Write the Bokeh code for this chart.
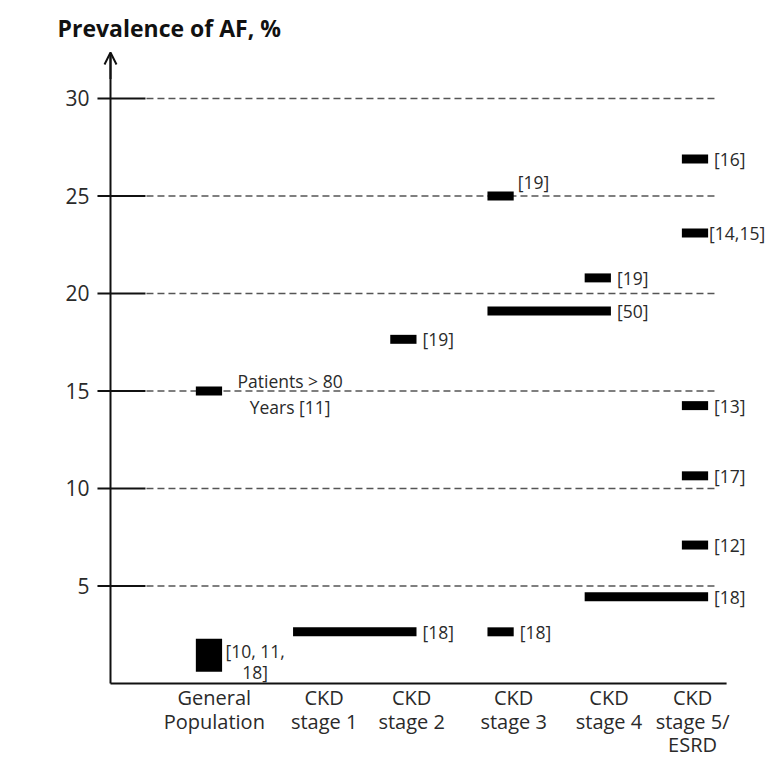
from bokeh.plotting import figure
from bokeh.models import Range1d, LinearAxis, FixedTicker, Arrow, OpenHead, ColumnDataSource
from bokeh.core.properties import value
from bokeh.embed import file_html
from bokeh.resources import INLINE

# ---------------- data ----------------
categories = ["General\nPopulation", "CKD\nstage 1", "CKD\nstage 2", "CKD\nstage 3",
              "CKD\nstage 4", "CKD\nstage 5/\nESRD"]
y_ticks = [5, 10, 15, 20, 25, 30]

# each finding: first category index, last category index, AF prevalence (%), reference
bar_from = [0, 1, 2, 3, 3, 3, 4, 4, 5, 5, 5, 5, 5]
bar_to = [0, 2, 2, 3, 4, 3, 4, 5, 5, 5, 5, 5, 5]
bar_value = [15.0, 2.65, 17.65, 25.0, 19.1, 2.65, 20.8, 4.45, 26.9, 23.1, 14.25, 10.65, 7.1]
bar_ref = ["Patients > 80\nYears [11]", "[18]", "[19]", "[19]", "[50]", "[18]", "[19]",
           "[18]", "[16]", "[14,15]", "[13]", "[17]", "[12]"]

# general population range
gp_low = [0.6]
gp_high = [2.3]
gp_ref = ["[10, 11,\n18]"]

# ---------------- style ----------------
FONT = "Open Sans"
TXT = "#2a2a2a"
INK = "#111111"
half_l, half_r = 0.13, 0.14          # bar extent around a category position
bar_h = 0.46
ref_dx = [68, 6, 6, 4, 6, 6, 6, 6, 6, 1, 6, 6, 6]
ref_dy = [3, 0, 0, -14, 0, 0, 0, 0, 0, 0, 0, 0, 0]
ref_align = ["center"] + ["left"] * 12
label_shift = [0.06, 0.19, 0.09, 0.14, 0.12, -0.02]

X0, X1 = -1.152, 5.792
Y0, Y1 = -4.513, 32.564
AX = -1.008                          # where the vertical axis line sits
TICK0, TICK1 = -1.142, -0.648        # tick mark extent
GRID0, GRID1 = -0.638, 5.216         # dashed line extent
XEND = 5.33                          # end of the horizontal axis line

p = figure(width=771, height=771, x_range=Range1d(X0, X1), y_range=Range1d(Y0, Y1),
           output_backend="svg", toolbar_location=None,
           x_axis_type=None, y_axis_type=None,
           min_border_left=96, min_border_right=0, min_border_top=48, min_border_bottom=0)
p.outline_line_color = None
p.grid.visible = False
p.background_fill_color = "white"

p.title.text = "Prevalence of AF, %"
p.title.align = "left"
p.title.offset = -39
p.title.text_font = FONT
p.title.text_font_style = "bold"
p.title.text_font_size = "23px"
p.title.text_color = INK

# y axis: only its tick labels; line and ticks are drawn below through the same scale
yaxis = LinearAxis(ticker=FixedTicker(ticks=y_ticks),
                   axis_line_color=None, major_tick_line_color=None,
                   minor_tick_line_color=None, major_tick_in=0, major_tick_out=0,
                   major_label_text_font=FONT, major_label_text_font_size="21px",
                   major_label_text_color=TXT, major_label_standoff=7)
p.add_layout(yaxis, "left")

# vertical axis line with arrow
p.segment(x0=[AX], y0=[0], x1=[AX], y1=[32.2], line_width=2, line_color=INK)
p.add_layout(Arrow(end=OpenHead(size=12, line_width=2, line_color=INK),
                   x_start=AX, y_start=31.0, x_end=AX, y_end=32.36,
                   line_width=2, line_color=INK))

# tick marks
p.segment(x0=[TICK0] * len(y_ticks), y0=y_ticks, x1=[TICK1] * len(y_ticks), y1=y_ticks,
          line_width=2, line_color=INK)

# dashed reference lines
p.segment(x0=[GRID0] * len(y_ticks), y0=y_ticks, x1=[GRID1] * len(y_ticks), y1=y_ticks,
          line_dash="7 4", line_color="#555555", line_width=1.4)

# x axis line
p.segment(x0=[AX], y0=[0], x1=[XEND], y1=[0], line_width=2, line_color=INK)

# bars
src = ColumnDataSource(dict(
    y=bar_value,
    left=[f - half_l for f in bar_from],
    right=[t + half_r for t in bar_to],
    ref=bar_ref, dx=ref_dx, dy=ref_dy, align=ref_align))
p.hbar(y="y", left="left", right="right", height=bar_h, source=src,
       fill_color="black", line_color=None)
p.text(x="right", y="y", text="ref", x_offset="dx", y_offset="dy", text_align="align",
       source=src, text_baseline="middle", text_font=value(FONT), text_font_size="17.5px",
       text_color=TXT, text_line_height=1.09)

# general population block
p.quad(left=[-half_l], right=[half_r], bottom=gp_low, top=gp_high,
       fill_color="black", line_color=None)
p.text(x=[half_r], y=[(gp_low[0] + gp_high[0]) / 2], text=gp_ref, x_offset=33, y_offset=6,
       text_align="center", text_baseline="middle", text_font=value(FONT),
       text_font_size="17.5px", text_color=TXT, text_line_height=0.88)

# category labels
p.text(x=[i + s for i, s in enumerate(label_shift)], y=[-0.05] * len(categories),
       text=categories, text_align="center", text_baseline="top",
       text_font=value(FONT), text_font_size="20px", text_color=TXT, text_line_height=0.86)

open("out.html", "w").write(file_html(p, INLINE))
